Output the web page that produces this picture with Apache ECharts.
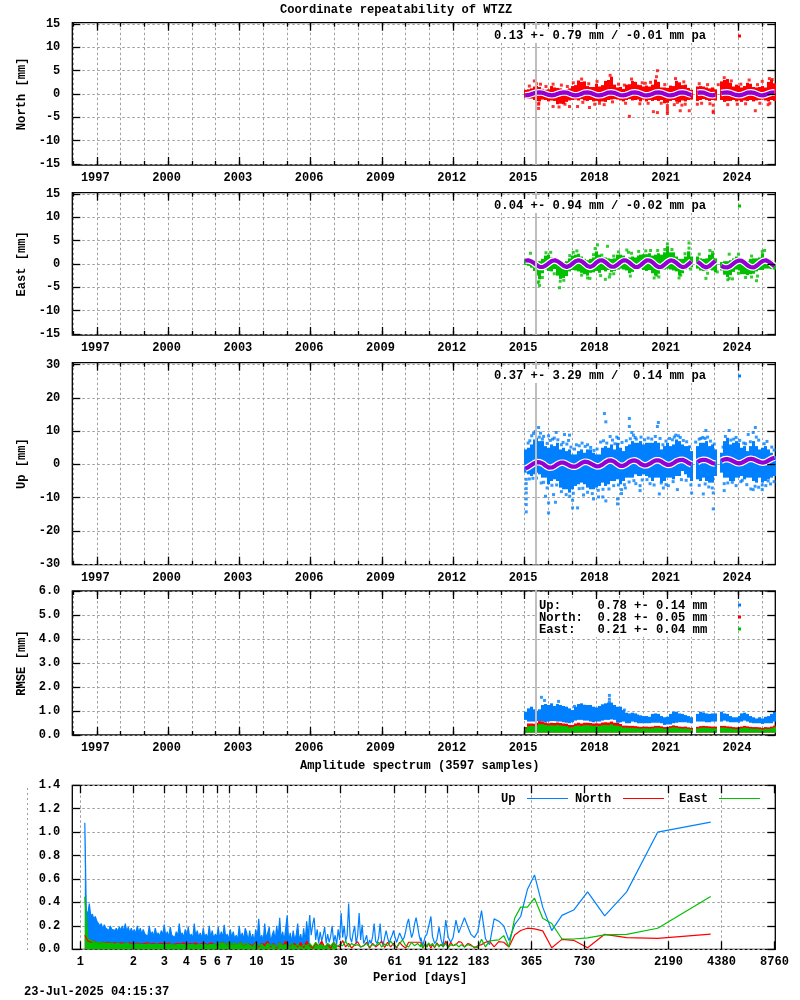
<!DOCTYPE html>
<html lang="en" style="height: 100%">
<head>
  <meta charset="utf-8">
</head>
<body style="height: 100%; margin: 0; background: #fff">
  <div id="container" style="width: 800px; height: 1000px"></div>

  <script type="text/javascript" src="https://fastly.jsdelivr.net/npm/echarts@6/dist/echarts.min.js"></script>
  <script type="text/javascript">
    // ---- time series panels: bins are 1/8 year wide, starting at binStart, null = data gap
    const binStart = 2014.96, binStep = 0.125;
    const stepYear = 2015.48;
    const years = [1996,1997,1998,1999,2000,2001,2002,2003,2004,2005,2006,2007,2008,2009,2010,2011,2012,2013,2014,2015,2016,2017,2018,2019,2020,2021,2022,2023,2024,2025];
    const yearLabels = [1997,2000,2003,2006,2009,2012,2015,2018,2021,2024];

    const northHi = [0.9,1.0,1.2,1.6,1.7,1.5,1.1,0.9,1.0,1.7,1.4,1.3,1.2,1.0,1.0,1.2,1.7,1.9,2.9,2.6,2.7,1.7,1.5,1.5,2.2,1.6,1.9,2.8,3.0,3.7,2.0,1.4,1.5,1.1,2.0,2.1,2.8,2.6,2.0,1.9,1.6,1.8,1.6,2.0,3.1,2.6,1.4,1.4,1.3,1.8,1.7,2.8,2.5,1.9,2.0,1.3,0.9,null,1.6,1.7,1.6,1.4,1.2,1.4,1.0,null,2.7,3.0,3.2,2.4,1.6,2.0,1.8,1.4,1.7,2.4,2.2,1.5,1.4,1.5,1.7,1.4,2.6,3.1,2.3];
    const northLo = [-0.8,-1.0,-1.0,-1.3,-1.5,-1.6,-1.2,-1.3,-1.6,-1.4,-1.5,-2.2,-2.1,-2.2,-1.7,-1.4,-1.3,-1.2,-1.4,-1.1,-1.4,-1.5,-1.3,-1.6,-1.5,-1.7,-1.6,-1.7,-1.3,-1.2,-1.1,-1.2,-1.4,-1.6,-1.3,-1.1,-1.4,-1.3,-1.2,-1.6,-1.2,-1.6,-1.3,-1.5,-1.3,-1.5,-1.3,-2.0,-1.9,-1.5,-1.3,-1.6,-1.8,-1.4,-1.6,-1.3,-1.2,null,-1.5,-1.3,-1.1,-1.3,-1.5,-1.3,-1.4,null,-1.3,-1.7,-1.5,-1.5,-1.3,-1.6,-1.4,-1.7,-1.4,-1.5,-1.3,-1.6,-1.4,-1.3,-1.2,-1.4,-1.6,-1.3,-1.5];
    const northFit = [-0.3,-0.25,-0.05,0.15,0.3,0.35,0.25,0,-0.2,-0.3,-0.2,0.05,0.25,0.35,0.3,0.05,-0.2,-0.3,-0.2,0.05,0.3,0.35,0.25,0,-0.25,-0.3,-0.2,0.05,0.3,0.35,0.25,0,-0.25,-0.3,-0.2,0.05,0.3,0.35,0.25,0,-0.25,-0.3,-0.2,0.05,0.3,0.35,0.25,0,-0.25,-0.3,-0.2,0.05,0.3,0.35,0.25,0,-0.2,null,0.25,0.35,0.3,0.05,-0.2,-0.3,-0.2,null,0.2,0.3,0.35,0.25,0,-0.2,-0.3,-0.2,0.05,0.3,0.35,0.25,0,-0.25,-0.3,-0.15,0.1,0.3,0.35];
    const northOut = [[2015.41,2.8],[2015.67,2.1],[2015.59,-2.2],[2015.59,-3.1],[2016.89,-2.7],[2017.23,-2.7],[2017.73,-2.9],[2018.15,-2.0],[2020.59,5.0],[2019.41,-4.8],[2020.42,-3.8],[2020.59,-4.0],[2021.01,-2.5],[2021.01,-3.1],[2021.01,-3.7],[2021.01,-4.2],[2021.43,-1.8],[2021.55,-3.6],[2021.93,-3.6],[2021.76,-2.2],[2022.27,-2.2],[2022.94,-2.4],[2022.94,-3.7],[2022.94,-4.0],[2023.15,2.0],[2024.71,-3.6],[2025.32,-2.0],[2025.42,3.1],[2025.0,2.7],[2020.08,2.3]];
    const northEdge = [[2015.2,1.7],[2015.5,2.2],[2015.9,1.6],[2016.2,2.1],[2016.55,1.9],[2016.8,1.6],[2017.05,2.4],[2017.4,3.2],[2017.7,2.2],[2018.05,2.7],[2018.6,4.0],[2018.95,2.1],[2019.2,1.9],[2019.5,3.2],[2019.95,2.4],[2020.3,2.5],[2020.55,3.7],[2020.9,2.0],[2021.35,3.3],[2021.7,2.6],[2022.35,2.2],[2022.7,2.0],[2023.4,3.5],[2023.7,2.8],[2024.1,2.1],[2024.45,3.0],[2024.8,2.0],[2025.3,3.3],[2015.6,-2.0],[2016.2,-2.7],[2016.45,-2.8],[2016.7,-2.2],[2017.45,-1.8],[2017.95,-2.2],[2018.35,-2.3],[2018.7,-1.7],[2019.25,-2.0],[2019.85,-2.1],[2020.2,-2.0],[2020.75,-2.0],[2021.3,-2.3],[2021.62,-2.4],[2022.45,-2.0],[2022.8,-2.1],[2023.55,-2.3],[2023.95,-2.2],[2024.3,-2.1],[2024.9,-2.0],[2025.25,-2.3]];

    const eastHi = [1.1,1.2,0.9,0.6,0.5,0.6,1.1,1.8,2.0,1.4,1.1,0.6,0.5,0.4,0.6,1.2,1.8,2.0,2.2,1.6,1.1,0.8,1.1,1.4,2.7,2.0,1.4,1.4,1.2,1.1,1.2,2.0,2.0,1.8,1.2,1.4,1.6,1.4,1.8,2.0,2.1,2.1,2.3,1.8,2.0,2.3,2.0,2.5,3.8,2.5,2.5,1.6,1.1,1.1,1.6,2.7,1.6,null,1.6,1.2,1.1,1.2,2.0,2.3,1.2,null,0.4,0.6,0.6,0.8,1.2,1.6,1.4,1.1,0.9,0.6,1.1,1.2,1.2,1.4,2.3,1.4,1.1,0.8,0.5];
    const eastLo = [-0.2,-0.4,-0.8,-1.5,-2.5,-3.3,-2.0,-1.2,-1.5,-1.6,-1.1,-2.5,-3.2,-3.0,-2.6,-1.6,-1.3,-1.4,-1.6,-1.9,-2.2,-2.5,-1.9,-1.8,-1.5,-1.9,-1.3,-1.6,-1.3,-1.7,-1.5,-1.2,-1.0,-1.2,-1.4,-2.0,-1.7,-1.3,-1.2,-1.0,-1.3,-1.5,-1.3,-2.0,-2.5,-2.1,-1.3,-1.2,-1.0,-1.2,-1.4,-1.6,-2.5,-2.0,-1.3,-1.0,-0.7,null,-1.0,-1.4,-1.5,-1.4,-1.2,-1.4,-1.8,null,-1.4,-2.3,-2.8,-2.4,-1.7,-1.2,-1.4,-2.2,-2.2,-2.4,-2.2,-2.1,-1.6,-1.3,-1.3,-1.0,-1.0,-1.1,-1.2];
    const eastFit = [0.7,0.8,0.6,0.2,-0.3,-0.65,-0.65,-0.3,0.2,0.65,0.8,0.55,0.1,-0.4,-0.65,-0.4,0.1,0.6,0.8,0.6,0.1,-0.45,-0.65,-0.3,0.3,0.75,0.8,0.4,-0.15,-0.6,-0.6,-0.2,0.35,0.75,0.75,0.35,-0.2,-0.65,-0.65,-0.2,0.35,0.8,0.75,0.3,-0.3,-0.7,-0.6,-0.1,0.45,0.8,0.65,0.2,-0.35,-0.7,-0.55,-0.05,0.55,null,0.5,0.05,-0.5,-0.75,-0.45,0.1,0.65,null,-0.4,-0.7,-0.75,-0.5,0,0.5,0.75,0.65,0.2,-0.35,-0.7,-0.75,-0.35,0.2,0.65,0.8,0.5,0,-0.55];
    const eastOut = [[2015.25,2.3],[2015.63,-4.6],[2015.55,-4.0],[2016.47,-5.1],[2018.07,4.1],[2017.97,3.3],[2018.49,3.8],[2018.01,2.1],[2019.3,3.0],[2019.37,2.5],[2021.92,4.5],[2021.92,3.4],[2021.92,2.3],[2021.92,1.6],[2021.01,4.3],[2021.01,3.4],[2018.6,-2.2],[2018.4,-3.3],[2018.57,-2.8],[2020.56,-2.4],[2021.57,-2.4],[2022.63,-3.1],[2023.61,2.1],[2022.91,2.5],[2025.0,2.7],[2024.76,-3.6],[2023.61,-3.1],[2023.11,-1.7],[2021.99,-1.1]];
    const eastEdge = [[2015.9,2.4],[2016.1,2.5],[2016.9,1.8],[2017.05,2.5],[2017.2,2.8],[2017.9,2.0],[2018.25,1.9],[2018.75,1.7],[2018.95,2.6],[2019.5,2.3],[2019.8,2.7],[2020.1,2.8],[2020.3,2.9],[2020.6,2.9],[2020.9,3.1],[2021.2,3.1],[2021.75,2.2],[2022.35,2.1],[2022.8,2.9],[2024.0,2.1],[2024.55,1.7],[2025.1,2.9],[2015.6,-3.8],[2015.75,-2.9],[2016.25,-2.1],[2016.5,-3.7],[2016.65,-3.5],[2017.4,-2.4],[2017.65,-3.0],[2017.75,-3.1],[2018.2,-2.5],[2018.75,-2.1],[2019.45,-2.6],[2020.45,-3.0],[2020.65,-2.8],[2021.5,-3.0],[2022.7,-2.0],[2023.55,-3.4],[2023.75,-3.2],[2024.0,-2.0],[2024.3,-2.9],[2024.55,-2.8],[2024.8,-2.6]];

    const upHi = [4.5,5,6,7.5,8,7,7,5.5,5,6,5.5,6.5,4.5,5,4,4.5,3,3,4,4.5,3.5,4.5,4.5,3.5,3,3,5,5.5,5,6,4.5,6.5,5,4,5.5,6,7,6.5,6.5,7,6,6.5,6.5,6.5,7,6.5,4.5,5.5,6.5,5.5,6,7.5,7,6,5.5,5.5,4,null,5.5,6.5,6.5,7,5.5,6,4.5,null,3.5,7,8,6,6.5,7,6.5,5,5.5,4,5.5,7,5.5,4.5,5,5.5,4.5,3.5,2.5];
    const upLo = [-2.5,-3,-3.5,-3,-2.5,-3,-4,-4,-6,-5,-4.5,-5,-7,-7.5,-7.5,-8.5,-7.5,-6.5,-6,-5.5,-6,-7,-7.5,-7.5,-7,-6.5,-5.5,-6.5,-6,-5,-5,-4.5,-6,-5,-4,-4,-4,-3,-3.5,-3.5,-3,-3.5,-4,-5,-4,-4,-5.5,-5,-4,-4,-4.5,-3.5,-3.5,-2,-3,-4,-5,null,-4.5,-5,-4,-5,-5.5,-5.5,-3.5,null,-2.5,-4,-4,-5,-5,-4,-4,-3.5,-4.5,-4,-4,-5,-5.5,-4,-5.5,-5,-4.5,-4,-3.5];
    const upFit = [-1.3,-0.9,-0.3,0.3,0.7,0.6,0.2,-0.5,-1,-0.95,-0.5,0.1,0.5,0.5,0.1,-0.4,-0.7,-0.7,-0.2,0.4,0.8,0.7,0.3,-0.2,-0.6,-0.55,-0.1,0.6,1.1,1.2,0.8,0.1,-0.45,-0.45,0,0.7,1.1,1.2,0.8,0.1,-0.3,-0.25,0.2,0.8,1.2,1.2,0.8,0.2,-0.2,-0.1,0.4,1,1.3,1.4,1,0.4,0,null,0.7,1.2,1.4,1.3,0.9,0.4,0.2,null,1.1,1.5,1.6,1.4,1,0.5,0.3,0.5,1,1.5,1.7,1.5,1.1,0.7,0.5,0.7,1.2,1.7,2];
    const upOut = [[2018.36,15.3],[2018.42,12.8],[2019.41,13.8],[2019.41,11.4],[2020.63,12.6],[2020.59,11.4],[2015.59,11.1],[2024.71,11.1],[2023.61,10.2],[2022.63,10.2],[2024.62,9.6],[2024.41,9.0],[2019.51,9.6],[2019.58,8.8],[2019.65,8.1],[2016.33,9.6],[2016.01,8.6],[2016.68,9.0],[2016.89,8.8],[2016.85,7.2],[2015.67,9.4],[2018.6,8.4],[2018.88,8.2],[2021.36,8.8],[2021.47,8.6],[2022.35,7.6],[2022.59,7.8],[2015.07,-4.5],[2015.07,-5.8],[2015.07,-7.3],[2015.07,-8.6],[2015.07,-10.4],[2015.07,-12.1],[2015.07,-14.3],[2016.01,-14.6],[2016.01,-11.6],[2015.88,-9.6],[2016.22,-9.1],[2016.3,-11.4],[2017.02,-13.1],[2017.23,-13.1],[2017.02,-10.8],[2017.48,-9.2],[2017.9,-10.4],[2018.11,-9.8],[2018.29,-9.8],[2018.42,-11],[2018.91,-10.4],[2018.91,-11.9],[2019.08,-7.6],[2019.08,-8.8],[2019.24,-7.1],[2019.68,-5.8],[2019.86,-6.4],[2019.86,-7.9],[2020.28,-5.8],[2020.67,-8.9],[2020.84,-7.1],[2021.05,-6.4],[2021.43,-7.6],[2022.03,-8.6],[2022.52,-8.9],[2022.94,-13.4],[2022.94,-8.6],[2023.4,-7.9],[2023.74,-5.4],[2024.16,-4.8],[2024.52,-7.4],[2024.62,-7.6],[2025.0,-7.6],[2025.0,-6.2],[2025.25,-5]];
    const upEdge = [[2015.15,6.4],[2015.22,7.1],[2015.3,8.6],[2015.38,9.3],[2015.45,9.9],[2015.62,8.2],[2015.75,7.6],[2015.8,8.4],[2015.95,6.3],[2016.08,7.2],[2016.18,7.6],[2016.25,7.9],[2016.4,7.4],[2016.55,5.9],[2016.62,6.6],[2016.78,6.1],[2016.95,5.2],[2017.1,4.6],[2017.18,5.9],[2017.3,5.6],[2017.42,6.4],[2017.55,5.4],[2017.65,5.9],[2017.78,5.1],[2017.92,4.2],[2018.05,4.6],[2018.2,6.7],[2018.32,7.1],[2018.46,6.4],[2018.7,7.3],[2018.8,6.2],[2018.95,7.8],[2019.1,6.6],[2019.28,7.1],[2019.45,7.7],[2019.7,7.6],[2019.9,8.2],[2020.05,7.4],[2020.2,7.9],[2020.35,7.6],[2020.5,8.4],[2020.7,7.8],[2020.82,5.9],[2020.95,7.0],[2021.1,7.8],[2021.22,7.4],[2021.3,8.2],[2021.55,8.1],[2021.68,7.2],[2021.82,6.8],[2021.95,5.3],[2022.2,6.7],[2022.42,7.8],[2022.5,8.1],[2022.7,8.2],[2022.82,7.0],[2022.98,6.1],[2023.35,5.2],[2023.45,8.4],[2023.68,7.3],[2023.8,7.6],[2023.9,8.1],[2024.05,7.2],[2024.22,6.4],[2024.3,6.2],[2024.5,6.8],[2024.75,8.2],[2024.85,7.3],[2025.08,6.2],[2025.2,6.9],[2025.4,5.2],[2025.5,4.3],
      [2015.2,-4.4],[2015.35,-4.2],[2015.5,-4.1],[2015.7,-5.6],[2015.8,-5.4],[2015.95,-7.1],[2016.15,-6.3],[2016.35,-6.2],[2016.55,-8.2],[2016.75,-9.1],[2016.9,-9.6],[2017.05,-8.7],[2017.3,-7.3],[2017.45,-7.2],[2017.65,-8.4],[2017.85,-8.8],[2018.1,-7.8],[2018.3,-7.5],[2018.55,-7.4],[2018.75,-6.4],[2018.95,-6.2],[2019.2,-6.1],[2019.4,-5.3],[2019.6,-4.9],[2019.95,-4.7],[2020.15,-4.6],[2020.45,-6.2],[2020.75,-5.6],[2020.95,-6.1],[2021.25,-5.2],[2021.6,-4.6],[2021.8,-4.8],[2022.0,-6.2],[2022.35,-6.3],[2022.6,-5.9],[2022.75,-6.8],[2022.9,-7.1],[2023.4,-5.8],[2023.55,-5.6],[2023.9,-6.4],[2024.1,-5.2],[2024.35,-6.1],[2024.7,-6.6],[2024.85,-6.9],[2025.15,-6.4],[2025.35,-5.9],[2025.5,-5.2]];

    const rmseUpHi = [0.97,1.11,1.18,1.07,1.01,1.07,1.25,1.29,1.25,1.32,1.21,1.29,1.25,1.21,1.18,1.11,1.04,1.18,1.29,1.32,1.26,1.25,1.25,1.18,1.15,1.21,1.28,1.32,1.35,1.35,1.25,1.18,1.18,1.04,0.93,0.90,0.93,0.90,0.85,0.82,0.79,0.79,0.76,0.88,0.90,0.88,0.79,0.74,0.76,0.88,0.97,0.97,0.90,0.88,0.83,0.79,0.74,null,0.88,0.97,0.94,0.90,0.88,0.90,0.90,null,0.97,0.90,0.88,0.79,0.74,0.74,0.79,0.90,0.93,0.88,0.79,0.74,0.69,0.74,0.69,0.76,0.79,0.88,0.97];
    const rmseUpLo = [0.63,0.56,0.56,0.56,0.58,0.58,0.56,0.53,0.56,0.58,0.58,0.56,0.56,0.53,0.51,0.49,0.53,0.60,0.63,0.63,0.60,0.60,0.56,0.53,0.56,0.56,0.60,0.63,0.63,0.65,0.63,0.51,0.53,0.56,0.49,0.49,0.56,0.53,0.49,0.49,0.49,0.49,0.49,0.51,0.51,0.51,0.49,0.42,0.44,0.44,0.49,0.51,0.53,0.53,0.53,0.51,0.49,null,0.56,0.56,0.56,0.53,0.53,0.56,0.56,null,0.56,0.60,0.56,0.53,0.53,0.53,0.51,0.56,0.60,0.56,0.51,0.49,0.49,0.49,0.46,0.49,0.49,0.49,0.56];
    const rmseNorthHi = [.33,.48,.48,.47,.51,.58,.56,.52,.49,.51,.5,.52,.5,.48,.47,.42,.42,.48,.51,.48,.51,.51,.5,.48,.49,.48,.52,.53,.52,.56,.51,.5,.46,.39,.39,.38,.38,.37,.35,.34,.35,.35,.34,.35,.38,.38,.36,.33,.34,.37,.4,.38,.35,.34,.35,.32,.3,null,.34,.37,.38,.37,.36,.35,.35,null,.38,.38,.36,.35,.33,.32,.33,.35,.38,.36,.34,.33,.33,.32,.3,.33,.32,.35,.39];
    const rmseEastHi = [.27,.37,.38,.37,.4,.45,.45,.42,.4,.41,.4,.42,.4,.38,.37,.32,.33,.38,.4,.38,.41,.41,.4,.38,.39,.38,.41,.42,.41,.45,.4,.39,.36,.31,.31,.3,.3,.29,.28,.27,.28,.28,.27,.28,.31,.31,.29,.26,.27,.3,.32,.31,.28,.27,.28,.26,.24,null,.27,.3,.31,.3,.29,.28,.28,null,.31,.31,.29,.28,.26,.25,.26,.28,.31,.29,.27,.26,.26,.25,.23,.26,.25,.28,.32];
    const rmseFloor = 0.1;
    const rmseOut = [[2015.71,1.57],[2015.84,1.44],[2016.43,1.40],[2017.1,1.19],[2018.57,1.65],[2018.57,1.49],[2018.57,1.36],[2019.2,1.04]];

    // ---- amplitude spectrum. dense part: periods grow by 1.0198 per value, from 1.06 days
    const spectrumTicks = [1,2,3,4,5,6,7,10,15,30,61,91,122,183,365,730,2190,4380,8760];
    const upDense = [1.08,.33,.30,.39,.28,.30,.26,.28,.24,.25,.20,.22,.17,.21,.18,.19,.16,.20,.17,.18,.16,.18,.15,.19,.16,.20,.15,.22,.15,.19,.14,.18,.14,.17,.13,.20,.14,.18,.13,.17,.13,
      .14,.11,.2,.12,.15,.11,.18,.12,.14,.11,.16,.12,.21,.11,.15,.1,.19,.12,.13,.1,.15,.11,.22,.12,.14,.1,.17,.11,.19,.1,.13,.09,.22,.11,.16,.1,.14,.09,.18,.1,.13,.09,.2,.1,.16,.09,.13,.1,.19,.09,.15,.1,.21,.1,.13,.08,.17,.1,.15,.09,.12,.08,.2,.09,.14,.08,.18,
      .14,.07,.16,.08,.13,.06,.17,.09,.26,.08,.12,.07,.22,.09,.14,.19,.06,.12,.16,.07,.2,.1,.27,.08,.15,.07,.18,.29,.06,.14,.06,.16,.08,.12,.22,.07,.13,.05,.18,.06,.24,.1,.29,.12,.21,.27,.08,.17,.05,.15,.07,.12,.19,.05,.13,.06,.11,.2,.06,.12,.04,.17,.08,.31,.1,.2,.07,.12,.39,.1,.06,.14,.2,.05,.12,.31,.08,.21,.05,.08,.12,.03,.08,.05,.11,.22,.07,.05,.1,.22,.06,.04,.1,.16,.1,.05,.09,.12,.16,.1,.06,.1,.14,.11,.08,.1,.15,.22,.26,.17,.1,.14,.22,.27,.2,.12,.07];
    // coarse part: every second period of the dense grid
    const northCoarse = [.12,.07,.06,.07,.06,.055,.06,.055,.06,.05,.055,.05,.055,.05,.05,.055,.045,.05,.05,.045,.05,.055,.045,.05,.045,.05,.05,.045,.055,.04,.045,.05,.045,.055,.04,.05,.045,.055,.04,.05,.05,.04,.055,.045,.04,.05,.06,.04,.055,.045,.05,.04,.06,.035,.05,.04,
      .03,.06,.02,.05,.04,.07,.02,.05,.01,.06,.03,.07,.02,.04,.05,.02,.06,.015,.07,.03,.01,.05,.03,.07,.02,.04,.01,.06,.03,.02,.075,.02,.05,.01,.04,.065,.02,.03,.06,.01,.05,.02,.04,.07,.015,.06,.02,.05,.01,.06,.03,.01,.06];
    const eastCoarse = [.45,.09,.075,.065,.06,.055,.055,.05,.05,.05,.045,.05,.045,.045,.05,.045,.04,.045,.045,.04,.04,.045,.04,.04,.045,.04,.04,.04,.045,.04,.035,.04,.04,.04,.035,.04,.04,.035,.04,.04,.04,.035,.04,.04,.045,.05,.055,.04,.06,.045,.05,.04,.055,.04,.05,.035,
      .02,.05,.03,.045,.015,.05,.03,.04,.02,.055,.03,.04,.02,.05,.025,.045,.015,.04,.03,.05,.02,.06,.03,.04,.015,.05,.03,.06,.02,.04,.03,.07,.02,.05,.03,.04,.02,.03,.05,.02,.04,.03,.06,.02,.045,.03,.07,.035,.02,.05,.08,.03,.02,.06,.03,.05,.02];
    // tail: single harmonics of the record, longest period first
    const tailPeriods = [3805,1902,1268,951,761,634,544,476,423,380,346,317,293,272,254,238,224,211,200,190,181,173,165,159,152,146,141,136,131,127,123,119,115,112,109,106,103,100,98,95,93,91,88,86];
    const upTail = [1.086,1.0,.49,.285,.49,.335,.29,.16,.36,.635,.51,.28,.21,.075,.2,.24,.26,.04,.09,.33,.15,.10,.13,.19,.27,.2,.14,.25,.1,.06,.1,.25,.03,.08,.19,.08,.05,.11,.28,.12,.13,.11,.03,.1];
    const northTail = [.13,.094,.10,.128,.014,.077,.085,.014,.157,.175,.18,.16,.123,.02,.06,.065,.02,.07,.06,.04,.03,.012,.04,.05,.02,.06,.065,.04,.03,.06,.02,.07,.02,.04,.03,.055,.015,.04,.01,.05,.02,.05,.01,.06];
    const eastTail = [.45,.18,.128,.123,.097,.088,.088,.22,.265,.436,.36,.36,.265,.02,.117,.08,.077,.07,.02,.085,.014,.02,.03,.04,.02,.04,.02,.045,.03,.04,.015,.05,.02,.045,.02,.05,.02,.05,.03,.055,.02,.045,.015,.05];
    const upFillEnd = 150, coarseFillEnd = 84;

    const RED = '#ff0000', GREEN = '#00c000', BLUE = '#0080ff', PURPLE = '#9400d3', STEP = '#bebebe';
    const FONT = 'Liberation Mono';
    const GRIDLINE = { show: true, lineStyle: { color: '#a0a0a0', type: [2.5, 2.5], width: 1 } };
    const tickLine = { color: '#000', width: 1.3 };
    const textStyle = { fontFamily: FONT, fontSize: 12.1, fontWeight: 'bold', color: '#000' };
    const noLine = { show: false, onZero: false };
    const noLabel = { show: false };
    const noSplit = { show: false };
    const labelFont = { fontFamily: FONT, fontSize: 12, fontWeight: 'bold', color: '#000' };

    var xAxes = [], yAxes = [], grids = [], series = [];

    // gridlines live on their own axis under the data, ticks on axes above it
    function tickAxis(common, position, length, values, label) {
      return Object.assign({}, common, { position: position, z: 5,
        axisTick: { show: true, inside: true, length: length, lineStyle: tickLine, customValues: values },
        axisLabel: label || noLabel, splitLine: noSplit });
    }

    function addTimeAxes(min, max) {
      var common = { type: 'value', gridIndex: grids.length - 1, min: min, max: max, axisLine: noLine };
      var base = xAxes.length;
      xAxes.push(Object.assign({}, common, { position: 'bottom',
        axisTick: { show: false, customValues: years }, axisLabel: noLabel, splitLine: GRIDLINE }));
      xAxes.push(tickAxis(common, 'bottom', 4, years));
      xAxes.push(tickAxis(common, 'bottom', 8, yearLabels, Object.assign({ customValues: yearLabels, margin: 7, padding: [0, 3, 0, 0],
        formatter: function (v) { return String(v); } }, labelFont)));
      xAxes.push(tickAxis(common, 'top', 4, years));
      xAxes.push(tickAxis(common, 'top', 8, yearLabels));
      return base;
    }

    function addYAxes(min, max, ticks, decimals, name) {
      var common = { type: 'value', gridIndex: grids.length - 1, min: min, max: max, axisLine: noLine };
      var base = yAxes.length;
      yAxes.push(Object.assign({}, common, { position: 'left',
        axisTick: { show: false, customValues: ticks }, axisLabel: noLabel, splitLine: GRIDLINE }));
      yAxes.push(Object.assign(tickAxis(common, 'left', 8, ticks, Object.assign({ customValues: ticks, margin: 12,
        formatter: function (v) { return Number(v).toFixed(decimals); } }, labelFont)),
        { name: name, nameLocation: 'middle', nameGap: 38, nameTextStyle: textStyle }));
      yAxes.push(tickAxis(common, 'right', 8, ticks));
      return base;
    }

    function bandSeries(xIdx, yIdx, lo, hi, color) {
      var data = [];
      lo.forEach(function (l, i) {
        if (l !== null) data.push([binStart + i * binStep, l, hi[i]]);
      });
      return { type: 'custom', xAxisIndex: xIdx, yAxisIndex: yIdx, data: data, encode: { x: 0, y: [1, 2] },
        renderItem: function (params, api) {
          var a = api.coord([api.value(0), api.value(1)]);
          var b = api.coord([api.value(0) + binStep, api.value(2)]);
          var x0 = Math.round(a[0]), x1 = Math.round(b[0]);
          var rect = echarts.graphic.clipRectByRect(
            { x: x0, y: b[1], width: x1 - x0, height: a[1] - b[1] },
            { x: params.coordSys.x, y: params.coordSys.y, width: params.coordSys.width + 1.5, height: params.coordSys.height });
          return rect && { type: 'rect', shape: rect, style: { fill: color } };
        } };
    }

    function pointSeries(xIdx, yIdx, points, color) {
      return { type: 'scatter', xAxisIndex: xIdx, yAxisIndex: yIdx, data: points, symbol: 'rect', symbolSize: 3,
        itemStyle: { color: color } };
    }

    function fitSeries(xIdx, yIdx, values) {
      var data = values.map(function (v, i) { return [binStart + i * binStep + binStep / 2, v]; });
      var make = function (color, width) {
        return { type: 'line', xAxisIndex: xIdx, yAxisIndex: yIdx, data: data, showSymbol: false, symbol: 'none',
          lineStyle: { color: color, width: width } };
      };
      return [make('#fff', 6.6), make(PURPLE, 4.2)];
    }

    function stepSeries(xIdx, yIdx, low, high) {
      return { type: 'line', xAxisIndex: xIdx, yAxisIndex: yIdx, data: [[stepYear, low], [stepYear, high]], showSymbol: false,
        symbol: 'none', clip: false, z: 3, lineStyle: { color: STEP, width: 2 } };
    }

    function addPanel(top, height, yMin, yMax, ticks, decimals, name) {
      grids.push({ left: 72.3, width: 703, top: top, height: height, show: true, borderColor: '#000', borderWidth: 1.3, backgroundColor: 'transparent' });
      return { x: addTimeAxes(1995.97, 2025.55), y: addYAxes(yMin, yMax, ticks, decimals, name) };
    }

    const coordTicks = [-15, -10, -5, 0, 5, 10, 15];
    const upTicks = [-30, -20, -10, 0, 10, 20, 30];
    const rmseTicks = [0, 1, 2, 3, 4, 5, 6];
    const ampTicks = [0, 0.2, 0.4, 0.6, 0.8, 1.0, 1.2, 1.4];

    var p = addPanel(22.7, 142.3, -15.25, 15.3, coordTicks, 0, 'North [mm]');
    series.push(bandSeries(p.x, p.y, northLo, northHi, RED), pointSeries(p.x, p.y, northOut.concat(northEdge), RED));
    series = series.concat(fitSeries(p.x, p.y, northFit));
    series.push(stepSeries(p.x, p.y, -15.25, 15.6));

    p = addPanel(192.7, 142.3, -15.25, 15.3, coordTicks, 0, 'East [mm]');
    series.push(bandSeries(p.x, p.y, eastLo, eastHi, GREEN), pointSeries(p.x, p.y, eastOut.concat(eastEdge), GREEN));
    series = series.concat(fitSeries(p.x, p.y, eastFit));
    series.push(stepSeries(p.x, p.y, -15.25, 15.6));

    p = addPanel(362.7, 202, -30.2, 30.6, upTicks, 0, 'Up [mm]');
    series.push(bandSeries(p.x, p.y, upLo, upHi, BLUE), pointSeries(p.x, p.y, upOut.concat(upEdge), BLUE));
    series = series.concat(fitSeries(p.x, p.y, upFit));
    series.push(stepSeries(p.x, p.y, -30.2, 31.2));

    p = addPanel(591, 144, 0, 6, rmseTicks, 1, 'RMSE [mm]');
    series.push(bandSeries(p.x, p.y, rmseUpLo, rmseUpHi, BLUE), pointSeries(p.x, p.y, rmseOut, BLUE));
    series.push(bandSeries(p.x, p.y, rmseEastHi.map(function (v) { return v === null ? null : rmseFloor; }), rmseNorthHi, RED));
    series.push(bandSeries(p.x, p.y, rmseEastHi.map(function (v) { return v === null ? null : rmseFloor; }), rmseEastHi, GREEN));
    series.push(stepSeries(p.x, p.y, 0, 6.05));

    // spectrum panel
    grids.push({ left: 72.3, width: 703, top: 785.3, height: 164, show: true, borderColor: '#000', borderWidth: 1.3, backgroundColor: 'transparent' });
    var specX = xAxes.length;
    var specCommon = { type: 'log', gridIndex: grids.length - 1, min: 0.9, max: 8860, axisLine: noLine };
    xAxes.push(Object.assign({}, specCommon, { position: 'bottom',
      axisTick: { show: false, customValues: spectrumTicks }, axisLabel: noLabel, splitLine: GRIDLINE }));
    xAxes.push(tickAxis(specCommon, 'bottom', 8, spectrumTicks, Object.assign({ customValues: spectrumTicks, margin: 7,
      formatter: function (v) { return String(Math.round(v)); } }, labelFont)));
    xAxes.push(tickAxis(specCommon, 'top', 8, spectrumTicks));
    var specY = addYAxes(0, 1.4, ampTicks, 1, '');

    function densePeriod(i) { return 1.06 * Math.pow(1.0198, i); }

    function spectrumSeries(values, stride, tail, fillEnd, color) {
      var pts = values.map(function (v, i) { return [densePeriod(i * stride), v]; });
      var tailPts = tail.map(function (v, i) { return [tailPeriods[i], v]; }).reverse();
      var line = { type: 'line', xAxisIndex: specX, yAxisIndex: specY, showSymbol: false, symbol: 'none',
        lineStyle: { color: color, width: 1.2 } };
      return [
        Object.assign({}, line, { data: pts.slice(0, fillEnd + 1), areaStyle: { color: color, opacity: 1 } }),
        Object.assign({}, line, { data: pts.slice(fillEnd).concat(tailPts) })
      ];
    }

    series = series.concat(spectrumSeries(upDense, 1, upTail, upFillEnd, BLUE));
    series = series.concat(spectrumSeries(northCoarse, 2, northTail, coarseFillEnd, RED));
    series = series.concat(spectrumSeries(eastCoarse, 2, eastTail, coarseFillEnd, GREEN));

    function txt(text, left, top, white) {
      var t = { text: text, left: left, top: top, padding: white ? [1, 2, 1, 2] : 0,
        textStyle: Object.assign({}, textStyle, { lineHeight: 12, fontSize: white ? 12.2 : 12.1 }) };
      if (white) t.backgroundColor = '#fff';
      return t;
    }

    function swatch(x, y, color) {
      return { type: 'rect', shape: { x: x, y: y, width: 3, height: 3 }, style: { fill: color }, z: 20 };
    }

    function keyLine(x1, x2, color) {
      return { type: 'line', shape: { x1: x1, y1: 798.5, x2: x2, y2: 798.5 }, style: { stroke: color, lineWidth: 1 }, z: 20 };
    }

    var option = {
      animation: false,
      backgroundColor: '#fff',
      title: [
        txt('Coordinate repeatability of WTZZ', 280, 4),
        txt('0.13 +- 0.79 mm / -0.01 mm pa', 492, 29, true),
        txt('0.04 +- 0.94 mm / -0.02 mm pa', 492, 199, true),
        txt('0.37 +- 3.29 mm /  0.14 mm pa', 492, 369, true),
        txt('Up:     0.78 +- 0.14 mm\nNorth:  0.28 +- 0.05 mm\nEast:   0.21 +- 0.04 mm', 537, 599, true),
        txt('Amplitude spectrum (3597 samples)', 300, 760),
        txt('Up', 501, 793),
        txt('North', 575, 793),
        txt('East', 679, 793),
        txt('Period [days]', 373, 972),
        txt('23-Jul-2025 04:15:37', 24, 986)
      ],
      grid: grids,
      xAxis: xAxes,
      yAxis: yAxes,
      series: series,
      graphic: [
        swatch(738, 34.5, RED),
        swatch(738, 204.5, GREEN),
        swatch(738, 374.5, BLUE),
        swatch(738, 603.5, BLUE),
        swatch(738, 615.5, RED),
        swatch(738, 627.5, GREEN),
        keyLine(527, 568, BLUE),
        keyLine(623, 664, RED),
        keyLine(719, 760, GREEN),
        { type: 'line', shape: { x1: 27.5, y1: 788, x2: 27.5, y2: 950 }, style: { stroke: '#a0a0a0', lineWidth: 1, lineDash: [2, 3] }, z: 1 }
      ]
    };

    var dom = document.getElementById('container');
    var myChart = echarts.init(dom, null, { renderer: 'canvas' });
    myChart.setOption(option);
    window.addEventListener('resize', myChart.resize);
  </script>
</body>
</html>
